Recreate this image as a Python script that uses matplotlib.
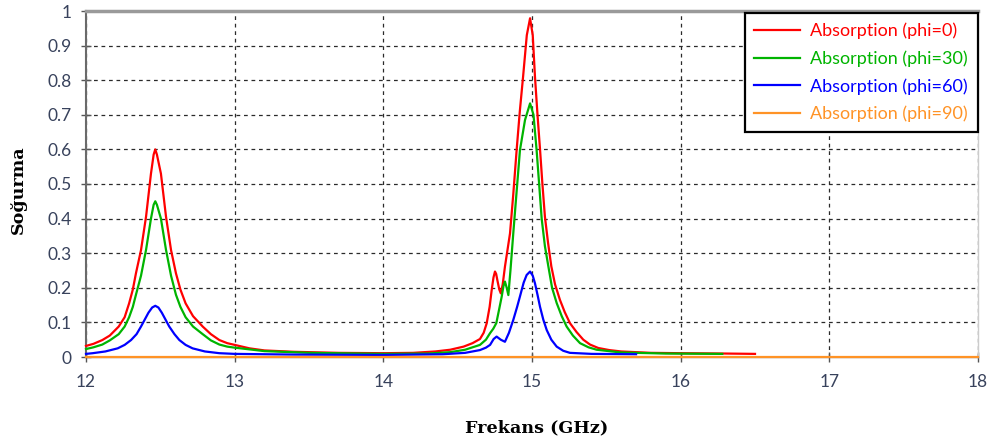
import matplotlib
matplotlib.use("Agg")
import matplotlib.pyplot as plt

# Absorption spectra for four polarisation angles (frequency in GHz)
freq_phi0 = [12.0, 12.05, 12.11, 12.16, 12.22, 12.26, 12.29, 12.315, 12.336, 12.37,
             12.404, 12.437, 12.455, 12.466, 12.477, 12.504, 12.538, 12.572, 12.605, 12.635,
             12.67, 12.72, 12.785, 12.84, 12.897, 12.95, 13.0, 13.1, 13.2, 13.4,
             13.7, 14.0, 14.2, 14.35, 14.45, 14.54, 14.6, 14.65, 14.675, 14.695,
             14.715, 14.729, 14.741, 14.751, 14.759, 14.767, 14.78, 14.79, 14.803, 14.818,
             14.852, 14.874, 14.897, 14.918, 14.94, 14.965, 14.987, 15.005, 15.02, 15.037,
             15.054, 15.07, 15.087, 15.108, 15.13, 15.155, 15.188, 15.22, 15.255, 15.3,
             15.345, 15.39, 15.446, 15.52, 15.6, 15.8, 16.0, 16.3, 16.5]
abs_phi0 = [0.032, 0.038, 0.049, 0.062, 0.088, 0.115, 0.155, 0.195, 0.242, 0.309,
            0.406, 0.53, 0.585, 0.600, 0.585, 0.53, 0.406, 0.309, 0.242, 0.195,
            0.155, 0.118, 0.088, 0.066, 0.049, 0.04, 0.035, 0.025, 0.019, 0.015,
            0.012, 0.011, 0.012, 0.016, 0.021, 0.03, 0.04, 0.052, 0.07, 0.097,
            0.145, 0.194, 0.23, 0.247, 0.24, 0.222, 0.195, 0.184, 0.21, 0.261,
            0.357, 0.47, 0.60, 0.71, 0.81, 0.93, 0.979, 0.93, 0.81, 0.70,
            0.60, 0.50, 0.405, 0.33, 0.262, 0.21, 0.165, 0.13, 0.098, 0.072,
            0.05, 0.036, 0.026, 0.02, 0.016, 0.012, 0.011, 0.01, 0.009]

freq_phi30 = [12.0, 12.05, 12.11, 12.16, 12.22, 12.26, 12.29, 12.315, 12.336, 12.37,
              12.404, 12.437, 12.455, 12.466, 12.477, 12.504, 12.538, 12.572, 12.605, 12.635,
              12.67, 12.72, 12.785, 12.84, 12.897, 12.95, 13.0, 13.2, 13.5, 14.0,
              14.3, 14.45, 14.55, 14.65, 14.69, 14.718, 14.74, 14.76, 14.78, 14.796,
              14.808, 14.818, 14.83, 14.841, 14.855, 14.874, 14.895, 14.919, 14.953, 14.987,
              15.01, 15.031, 15.048, 15.065, 15.087, 15.11, 15.135, 15.166, 15.2, 15.233,
              15.275, 15.323, 15.38, 15.435, 15.6, 15.9, 16.28]
abs_phi30 = [0.023, 0.028, 0.036, 0.048, 0.066, 0.088, 0.115, 0.145, 0.18, 0.235,
             0.31, 0.40, 0.44, 0.450, 0.44, 0.40, 0.31, 0.235, 0.18, 0.145,
             0.115, 0.088, 0.066, 0.048, 0.036, 0.03, 0.027, 0.017, 0.012, 0.009,
             0.01, 0.014, 0.021, 0.035, 0.05, 0.069, 0.082, 0.098, 0.14, 0.174,
             0.205, 0.218, 0.2, 0.179, 0.25, 0.357, 0.47, 0.598, 0.685, 0.733,
             0.70, 0.598, 0.50, 0.40, 0.32, 0.262, 0.2, 0.156, 0.118, 0.088,
             0.062, 0.04, 0.028, 0.021, 0.013, 0.01, 0.009]

freq_phi60 = [12.0, 12.045, 12.13, 12.213, 12.26, 12.303, 12.34, 12.37, 12.42, 12.445,
              12.466, 12.487, 12.51, 12.56, 12.595, 12.628, 12.67, 12.717, 12.8, 12.897,
              13.0, 13.4, 14.0, 14.4, 14.55, 14.65, 14.69, 14.718, 14.742, 14.762,
              14.79, 14.818, 14.845, 14.874, 14.9, 14.919, 14.944, 14.964, 14.987, 15.005,
              15.02, 15.037, 15.054, 15.076, 15.099, 15.13, 15.166, 15.21, 15.255, 15.4,
              15.7]
abs_phi60 = [0.009, 0.011, 0.016, 0.025, 0.035, 0.049, 0.066, 0.088, 0.128, 0.143,
             0.148, 0.143, 0.128, 0.088, 0.066, 0.049, 0.035, 0.025, 0.016, 0.011,
             0.009, 0.007, 0.006, 0.008, 0.012, 0.02, 0.027, 0.035, 0.052, 0.059,
             0.05, 0.044, 0.07, 0.107, 0.145, 0.175, 0.215, 0.237, 0.247, 0.235,
             0.213, 0.18, 0.145, 0.108, 0.078, 0.05, 0.03, 0.018, 0.012, 0.009,
             0.008]

freq_phi90 = [12.0, 13.0, 14.0, 15.0, 16.0, 17.0, 18.0]
abs_phi90 = [0.0, 0.0, 0.0, 0.0, 0.0, 0.0, 0.0]

series_labels = ["Absorption (phi=0)", "Absorption (phi=30)",
                 "Absorption (phi=60)", "Absorption (phi=90)"]
series_colors = ["#ff0000", "#00b400", "#0000ff", "#ff9326"]

x_ticks = [12, 13, 14, 15, 16, 17, 18]
y_ticks = [0, 0.1, 0.2, 0.3, 0.4, 0.5, 0.6, 0.7, 0.8, 0.9, 1]
y_tick_labels = ["0", "0.1", "0.2", "0.3", "0.4", "0.5", "0.6", "0.7", "0.8", "0.9", "1"]

tick_color = "#38425c"
tick_font = "Lato"

fig = plt.figure(figsize=(9.95, 4.46), dpi=100)
ax = fig.add_axes([86 / 995, 1 - 357 / 446, (978 - 86) / 995, (357 - 11) / 446])

curves = [(freq_phi0, abs_phi0), (freq_phi30, abs_phi30),
          (freq_phi60, abs_phi60), (freq_phi90, abs_phi90)]
for (fx, fy), lab, col in zip(curves, series_labels, series_colors):
    ax.plot(fx, fy, color=col, lw=1.6, label=lab, clip_on=False, zorder=3,
            solid_joinstyle="round")

ax.set_xlim(12, 18)
ax.set_ylim(0, 1)
ax.set_xticks(x_ticks)
ax.set_yticks(y_ticks)
ax.set_yticklabels(y_tick_labels)

ax.grid(True, color="#2a2a2a", linestyle=(0, (3, 3)), linewidth=0.9, zorder=1)
ax.set_axisbelow(True)

ax.tick_params(axis="both", direction="inout", length=7, width=1, color="#555555",
               labelcolor=tick_color, labelsize=12.5)
ax.tick_params(axis="x", pad=9)
ax.tick_params(axis="y", pad=7)
for lbl in ax.get_xticklabels() + ax.get_yticklabels():
    lbl.set_family(tick_font)

ax.spines["left"].set_color("#6a6a6a")
ax.spines["left"].set_linewidth(1.5)
ax.spines["top"].set_color("#9a9a9a")
ax.spines["top"].set_linewidth(2.5)
ax.spines["right"].set_color("#cccccc")
ax.spines["right"].set_linewidth(1)
ax.spines["bottom"].set_color("#888888")
ax.spines["bottom"].set_linewidth(1)

leg = ax.legend(loc="upper right", bbox_to_anchor=(1.0, 0.995), fancybox=False,
                framealpha=1, edgecolor="black", prop={"family": tick_font, "size": 13},
                handlelength=2.5, handletextpad=0.6, labelspacing=0.62,
                borderpad=0.55, borderaxespad=0.0)
leg.get_frame().set_linewidth(1.6)
for txt, col in zip(leg.get_texts(), series_colors):
    txt.set_color(col)

fig.text(537 / 995, 1 - 428 / 446, "Frekans (GHz)", ha="center", va="center",
         family="DejaVu Serif", weight="bold", fontsize=12.6)
fig.text(18 / 995, 1 - 190 / 446, "Soğurma", ha="center", va="center", rotation=90,
         family="DejaVu Serif", weight="bold", fontsize=12.6)

fig.savefig("out.png", dpi=100)
